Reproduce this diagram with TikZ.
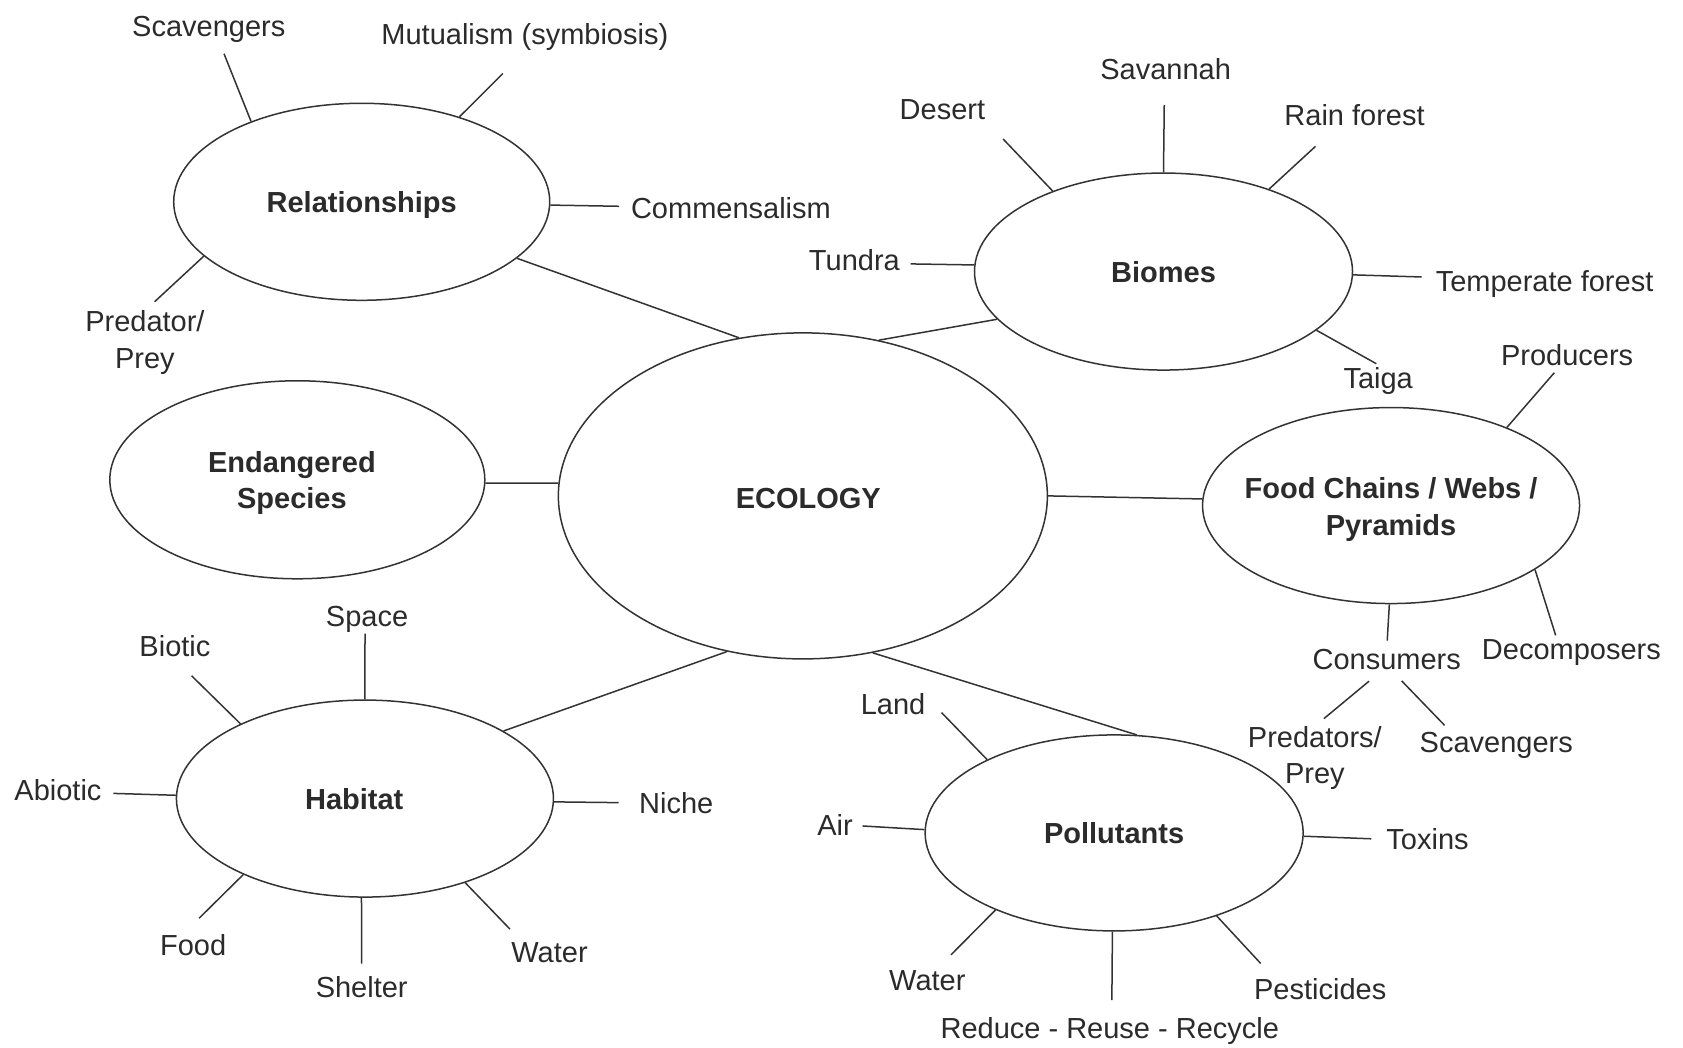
\documentclass[tikz,border=0pt]{standalone}
\usepackage{fontspec}
\setmainfont{Liberation Sans}
\usetikzlibrary{shapes.geometric}
\definecolor{ink}{HTML}{2B2B2B}
\definecolor{stroke}{HTML}{333333}

\begin{document}
\begin{tikzpicture}[x=1.0733pt, y=-1.0733pt,
  oval/.style 2 args={ellipse, draw=stroke, line width=1.5pt, inner sep=0pt,
    minimum width=#1pt, minimum height=#2pt},
  ovtext/.style={font=\bfseries\fontsize{29}{36.5}\selectfont, text=ink,
    inner sep=0pt, text height=20.9pt, text depth=0pt},
  ovtwo/.style={font=\bfseries\fontsize{29}{36.5}\selectfont, text=ink,
    inner sep=0pt, align=center},
  txt/.style={font=\fontsize{29}{36.5}\selectfont, text=ink, inner sep=0pt,
    text height=20.9pt, text depth=0pt},
  txttwo/.style={font=\fontsize{29}{36.5}\selectfont, text=ink, inner sep=0pt,
    align=center, anchor=north},
  link/.style={draw=stroke, line width=1.5pt},
]
\useasboundingbox (0,0) rectangle (1568,976);
\fill[white] (0,0) rectangle (1568,976);

% central topic and sub-topics
\node[oval={489}{326}, label={[ovtext,xshift=5.4pt,yshift=-2pt]center:ECOLOGY}] (eco) at (748,462) {};
\node[oval={376}{197}, label={[ovtext]center:Relationships}] (rel) at (337,188) {};
\node[oval={378}{197}, label={[ovtext]center:Biomes}] (bio) at (1084,253) {};
\node[oval={375}{198}, label={[ovtwo,xshift=-5.4pt,yshift=-3pt]center:{Endangered\\Species}}] (endg) at (277,447) {};
\node[oval={377}{196}, label={[ovtwo,yshift=-4pt]center:{Food Chains / Webs /\\Pyramids}}] (fcw) at (1296,471) {};
\node[oval={377}{197}, label={[ovtext,xshift=-10.7pt]center:Habitat}] (hab) at (340,744) {};
\node[oval={378}{196}, label={[ovtext]center:Pollutants}] (pol) at (1038,776) {};

% links to the central topic
\draw[link] (rel.-20) -- (eco.112);
\draw[link] (bio.196.7) -- (eco.64);
\draw[link] (endg.-1.6) -- (eco.177.7);
\draw[link] (fcw.178.4) -- (eco.-0.3);
\draw[link] (hab.26.9) -- (eco.244.7);
\draw[link] (pol.77.6) -- (eco.294.3);

% Relationships
\node[txt] (lScav) at (194.5,24) {Scavengers};
\node[txt] (lMut) at (489,32) {Mutualism (symbiosis)};
\node[txt] (lComm) at (681,194) {Commensalism};
\node[txttwo] (lPred) at (135,289.5) {Predator/\\Prey};
\draw[link, shorten >=18.7pt] (rel.144) -- (lScav.-52);
\draw[link, shorten >=40.5pt] (rel.41.6) -- (lMut.-58);
\draw[link, shorten >=11.8pt] (rel.-1) -- (lComm.179);
\draw[link, shorten >=13.3pt] (rel.199) -- (lPred.north);

% Biomes
\node[txt] (lDes) at (878,102) {Desert};
\node[txt] (lSav) at (1086,64) {Savannah};
\node[txt] (lRain) at (1262,107) {Rain forest};
\node[txt] (lTun) at (796,242) {Tundra};
\node[txt] (lTemp) at (1439,262) {Temperate forest};
\node[txt] (lTaiga) at (1284,352) {Taiga};
\draw[link, shorten >=26pt] (bio.144.6) -- (lDes.-14);
\draw[link, shorten >=25.8pt] (bio.90) -- (lSav.-96);
\draw[link, shorten >=30.8pt] (bio.38.2) -- (lRain.-147);
\draw[link, shorten >=10.7pt] (bio.178) -- (lTun.-5);
\draw[link, shorten >=14pt] (bio.-1.3) -- (lTemp.178);
\draw[link, shorten >=7pt] (bio.-21) -- (lTaiga.68);

% Food chains / webs / pyramids
\node[txt] (lProd) at (1460,331) {Producers};
\node[txt] (lDec) at (1464,605) {Decomposers};
\node[txt] (lCons) at (1292,614) {Consumers};
\node[txttwo] (lPP) at (1225,676.5) {Predators/\\Prey};
\node[txt] (lScav2) at (1394,691) {Scavengers};
\draw[link, shorten >=9pt] (fcw.34.3) -- (lProd.-123);
\draw[link, shorten >=3.6pt] (fcw.-24.4) -- (lDec.144);
\draw[link, shorten >=7.8pt] (fcw.-91) -- (lCons.north);
\draw[link, shorten <=18pt, shorten >=11.8pt] (lCons.-110) -- (lPP.north);
\draw[link, shorten <=15.6pt, shorten >=8pt] (lCons.-69) -- (lScav2.167);

% Habitat
\node[txt] (lSpace) at (342,574) {Space};
\node[txt] (lBio) at (163,602) {Biotic};
\node[txt] (lAbio) at (54,736) {Abiotic};
\node[txt] (lNiche) at (630,748) {Niche};
\node[txt] (lFood) at (180,880) {Food};
\node[txt] (lShel) at (337,920) {Shelter};
\node[txt] (lWat) at (512,887) {Water};
\draw[link, shorten >=6.8pt] (hab.90) -- (lSpace.-101);
\draw[link, shorten >=27pt] (hab.149.6) -- (lBio.-104);
\draw[link, shorten >=11.8pt] (hab.179) -- (lAbio.-4);
\draw[link, shorten >=20.4pt] (hab.-1) -- (lNiche.west);
\draw[link, shorten >=22.2pt] (hab.212.6) -- (lFood.133);
\draw[link, shorten >=13.2pt] (hab.-92) -- (lShel.north);
\draw[link, shorten >=17.1pt] (hab.-40.5) -- (lWat.159);

% Pollutants
\node[txt] (lLand) at (832,656) {Land};
\node[txt] (lAir) at (778,769) {Air};
\node[txt] (lTox) at (1330,782) {Toxins};
\node[txt] (lWat2) at (864,913) {Water};
\node[txt] (lRed) at (1034,958) {Reduce - Reuse - Recycle};
\node[txt] (lPest) at (1230,921) {Pesticides};
\draw[link, shorten >=23pt] (pol.150) -- (lLand.14);
\draw[link, shorten >=9.7pt] (pol.179) -- (lAir.east);
\draw[link, shorten >=15pt] (pol.-1.3) -- (lTox.west);
\draw[link, shorten >=20.4pt] (pol.213.4) -- (lWat2.49);
\draw[link, shorten >=17.5pt] (pol.-91) -- (lRed.80);
\draw[link, shorten >=19.7pt] (pol.-39.5) -- (lPest.167);
\end{tikzpicture}
\end{document}
